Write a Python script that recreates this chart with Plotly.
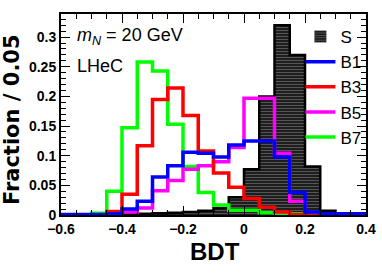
import plotly.graph_objects as go

bin_edges = [-0.6, -0.55, -0.5, -0.45, -0.4, -0.35, -0.3, -0.25, -0.2, -0.15, -0.1,
             -0.05, 0.0, 0.05, 0.1, 0.15, 0.2, 0.25, 0.3, 0.35, 0.4]
S = [0, 0, 0, 0, 0.001, 0.002, 0.003, 0.004, 0.005, 0.007, 0.012, 0.03, 0.077,
     0.2, 0.32, 0.27, 0.082, 0.007, 0.001, 0.0]
B1 = [0.001, 0.001, 0.001, 0.002, 0.01, 0.023, 0.064, 0.083, 0.106, 0.104, 0.098,
      0.118, 0.125, 0.125, 0.098, 0.038, 0.005, 0.002, 0.002, 0.002]
B3 = [0, 0, 0, 0.006, 0.035, 0.117, 0.195, 0.214, 0.168, 0.108, 0.071, 0.047,
      0.028, 0.013, 0.005, 0.001, 0, 0, 0, 0]
B5 = [0, 0, 0, 0.001, 0.005, 0.012, 0.041, 0.058, 0.077, 0.083, 0.09, 0.114,
      0.197, 0.197, 0.104, 0.023, 0, 0, 0, 0]
B7 = [0, 0, 0.003, 0.04, 0.147, 0.258, 0.243, 0.153, 0.082, 0.038, 0.017, 0.008,
      0.008, 0.004, 0.002, 0.002, 0.001, 0, 0, 0]

series = [("B7", B7, "#00ff00", 5), ("B5", B5, "#ff00ff", 4),
          ("B3", B3, "#ff0000", 3), ("B1", B1, "#0000ff", 2)]

centers = [(a + b) / 2 for a, b in zip(bin_edges[:-1], bin_edges[1:])]
widths = [b - a for a, b in zip(bin_edges[:-1], bin_edges[1:])]

SANS = "Liberation Sans, Arial, sans-serif"

fig = go.Figure()
fig.add_trace(go.Bar(
    x=centers, y=S, width=widths, name="S", legendrank=1,
    marker=dict(color="#222222", line=dict(width=0),
                pattern=dict(shape="-", fgcolor="#9a9a9a", bgcolor="#1e1e1e",
                             size=3, solidity=0.3)),
))
fig.add_trace(go.Scatter(
    x=bin_edges, y=S + [S[-1]], mode="lines", line=dict(shape="hv", color="black", width=2.5),
    showlegend=False, hoverinfo="skip"))
for name, vals, col, rank in series:
    fig.add_trace(go.Scatter(
        x=bin_edges, y=vals + [vals[-1]], mode="lines", name=name, legendrank=rank,
        line=dict(shape="hv", color=col, width=3.5)))

axis_common = dict(showline=True, linecolor="black", linewidth=2, mirror="allticks",
                   ticks="inside", tickcolor="black", showgrid=False, zeroline=False,
                   automargin=False,
                   tickfont=dict(family=SANS, size=14, color="black", weight="bold"))
fig.update_xaxes(range=[-0.6, 0.4], dtick=0.2, tick0=-0.6, ticklen=9, tickwidth=1,
                 minor=dict(ticks="inside", dtick=0.05, ticklen=5, tickcolor="black"),
                 **axis_common)
fig.update_yaxes(range=[0, 0.339], dtick=0.05, tick0=0, ticklen=9, tickwidth=1,
                 minor=dict(ticks="inside", dtick=0.01, ticklen=5, tickcolor="black"),
                 **axis_common)

fig.add_annotation(text="<b>Fraction / 0.05</b>", textangle=-90, xref="paper", yref="paper",
                   x=-0.162, y=0.475, xanchor="center", yanchor="middle", showarrow=False,
                   font=dict(family="DejaVu Sans", size=21, color="black"))
fig.add_annotation(text="<b>BDT</b>", xref="paper", yref="paper", x=0.505, y=-0.18,
                   xanchor="center", yanchor="middle", showarrow=False,
                   font=dict(family=SANS, size=24, color="black"))
fig.add_annotation(text="<i>m</i><sub><i>N</i></sub> = 20 GeV", xref="paper", yref="paper",
                   x=0.045, y=0.89, xanchor="left", yanchor="middle", showarrow=False,
                   font=dict(family=SANS, size=18, color="black"))
fig.add_annotation(text="LHeC", xref="paper", yref="paper", x=0.045, y=0.74,
                   xanchor="left", yanchor="middle", showarrow=False,
                   font=dict(family=SANS, size=18, color="black"))

fig.update_layout(
    width=382, height=273, margin=dict(l=61, r=16, t=14, b=58, autoexpand=False),
    paper_bgcolor="white", plot_bgcolor="white", bargap=0, barmode="overlay",
    legend=dict(x=0.785, y=0.975, xanchor="left", yanchor="top", bgcolor="rgba(0,0,0,0)",
                font=dict(family=SANS, size=17, color="black"), tracegroupgap=0,
                itemwidth=30),
)
fig.write_html("out.html", config={"displayModeBar": False},
               post_script="document.body.style.margin='0px';")
